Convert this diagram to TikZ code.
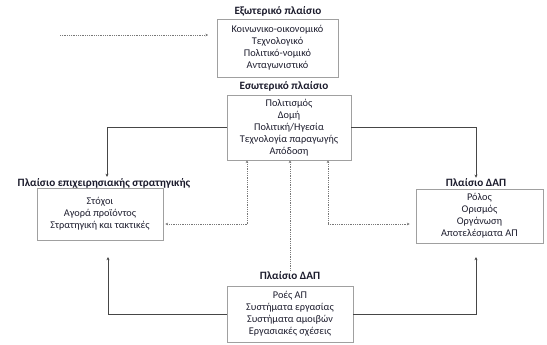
\documentclass[tikz,border=0pt]{standalone}
\usepackage{fontspec}
\setmainfont{Carlito}
\usepackage{tikz}
\usetikzlibrary{calc,positioning,arrows.meta}
\usepackage{xcolor}
\definecolor{inkc}{RGB}{28,28,45}
\definecolor{framec}{RGB}{160,160,160}
\definecolor{linkc}{RGB}{70,70,70}
\definecolor{hintc}{RGB}{120,120,120}
\tikzset{
  ttl/.style={font=\fontsize{11.2}{13}\selectfont\bfseries,text=inkc,inner sep=1pt},
  frm/.style={rectangle,draw=framec,line width=0.9pt,align=center,inner sep=1.5pt,
    font=\fontsize{10.3}{12}\selectfont,text=inkc},
  link/.style={-{Stealth[length=3.2pt,width=3pt]},line width=0.9pt,linkc},
  hint/.style={-{Stealth[length=2.6pt,width=2.6pt]},line width=0.8pt,hintc,dash pattern=on 0.7pt off 1.1pt},
}
\begin{document}
\begin{tikzpicture}[x=1pt,y=-1pt]
  \useasboundingbox (0,0) rectangle (547,345);
  % outer context
  \node[ttl] (et) at (278,11) {Εξωτερικό πλαίσιο};
  \node[frm,minimum width=121pt,minimum height=58pt] (ext) at (277.5,48)
     {Κοινωνικο-οικονομικό\\Τεχνολογικό\\Πολιτικό-νομικό\\Ανταγωνιστικό};
  % inner context
  \node[ttl] (it) at (284,86) {Εσωτερικό πλαίσιο};
  \node[frm,minimum width=124pt,minimum height=65pt] (int) at (289,127.5)
     {Πολιτισμός\\Δομή\\Πολιτική/Ηγεσία\\Τεχνολογία παραγωγής\\Απόδοση};
  % strategy
  \node[ttl] (lt) at (104,183) {Πλαίσιο επιχειρησιακής στρατηγικής};
  \node[frm,minimum width=126pt,minimum height=52pt] (lb) at (100,214)
     {Στόχοι\\Αγορά προϊόντος\\Στρατηγική και τακτικές};
  % right DAP
  \node[ttl] (rt) at (476,183) {Πλαίσιο ΔΑΠ};
  \node[frm,minimum width=127pt,minimum height=54pt] (rb) at (479.5,216)
     {Ρόλος\\Ορισμός\\Οργάνωση\\Αποτελέσματα ΑΠ};
  % bottom DAP
  \node[ttl] (bt) at (290,276) {Πλαίσιο ΔΑΠ};
  \node[frm,minimum width=126pt,minimum height=56pt] (bot) at (290,314)
     {Ροές ΑΠ\\Συστήματα εργασίας\\Συστήματα αμοιβών\\Εργασιακές σχέσεις};

  % solid links
  \coordinate (lin) at (108,257);
  \coordinate (rin) at (476,257);
  \draw[link] (int.west) -| ([xshift=3pt]lt.north);
  \draw[link] (int.east) -| (rt.north);
  \draw[link] (bot.west) -| (lin);
  \draw[link] (bot.east) -| (rin);

  % dotted hints
  \coordinate (ds) at (60,35);
  \coordinate (de) at (208,35);
  \coordinate (jl) at (247,224);
  \coordinate (jr) at (328,224);
  \draw[hint] (ds) -- (de);
  \draw[hint] (jl) -- (jl |- int.south);
  \draw[hint] (jl) -- ([xshift=2pt]jl -| lb.east);
  \draw[hint] (bt.north) -- (bt.north |- int.south);
  \draw[hint] (jr) -- (jr |- int.south);
  \draw[hint] (jr) -- ([xshift=-6pt]jr -| rb.west);
\end{tikzpicture}
\end{document}
